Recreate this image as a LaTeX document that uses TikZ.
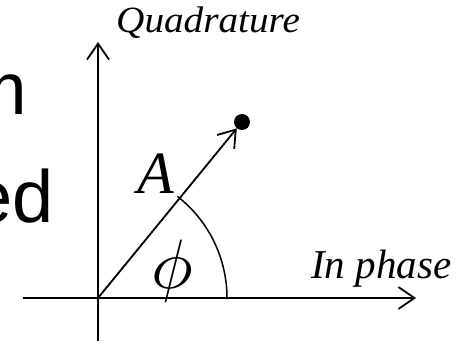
\documentclass[tikz,border=0pt]{standalone}
\usepackage{fontspec}
\setmainfont{Liberation Serif}
\newfontfamily\slidefont{Liberation Sans}
\usetikzlibrary{arrows.meta}

\begin{document}
\begin{tikzpicture}[
  x=1pt,
  y=1pt,
  axis/.style={draw=black, line width=1.8pt,
    -{Straight Barb[length=16pt,width=22pt,line width=1.8pt]}},
  phasor/.style={axis},
  anglearc/.style={draw=black, line width=1.5pt},
  endpoint/.style={circle, fill=black, inner sep=0pt, minimum size=16pt},
  axislabel/.style={font=\fontsize{41}{48}\selectfont\itshape, inner sep=0pt},
  slidetext/.style={font=\slidefont\fontsize{74}{80}\selectfont, inner sep=0pt}
]

\useasboundingbox (0,0) rectangle (467,341);
\clip (0,0) rectangle (467,341);

% slide text cut off at the left
\node[slidetext, anchor=base east] (lineone) at (27,226) {m};
\node[slidetext, anchor=base east] (linetwo) at (54,119) {ed};

\coordinate (O) at (98,43);
\coordinate (xstart) at (23,43);
\coordinate (xend) at (416,43);
\coordinate (ystart) at (98,0);
\coordinate (yend) at (98,299);

\draw[axis] (xstart) -- (xend);
\draw[axis] (ystart) -- (yend);

\node[endpoint] (dot) at (242,219) {};
\draw[phasor] (O) -- (dot);

\draw[anglearc] ([shift={(129,0)}]O) arc[start angle=0, end angle=52, radius=129];

\node[axislabel, anchor=base west] (quad) at (116,308)
  {\scalebox{1.06}[1]{\fontsize{37}{40}\selectfont Quadrature}};
\node[axislabel, anchor=base west] (inph) at (311,63) {In phase};
\node[font=\fontsize{60}{66}\selectfont\itshape, inner sep=0pt, anchor=base west] (amp) at (137,148) {A};
\node[inner sep=0pt] (ang) at (172,70) {\scalebox{7}{$\phi$}};
\end{tikzpicture}
\end{document}
